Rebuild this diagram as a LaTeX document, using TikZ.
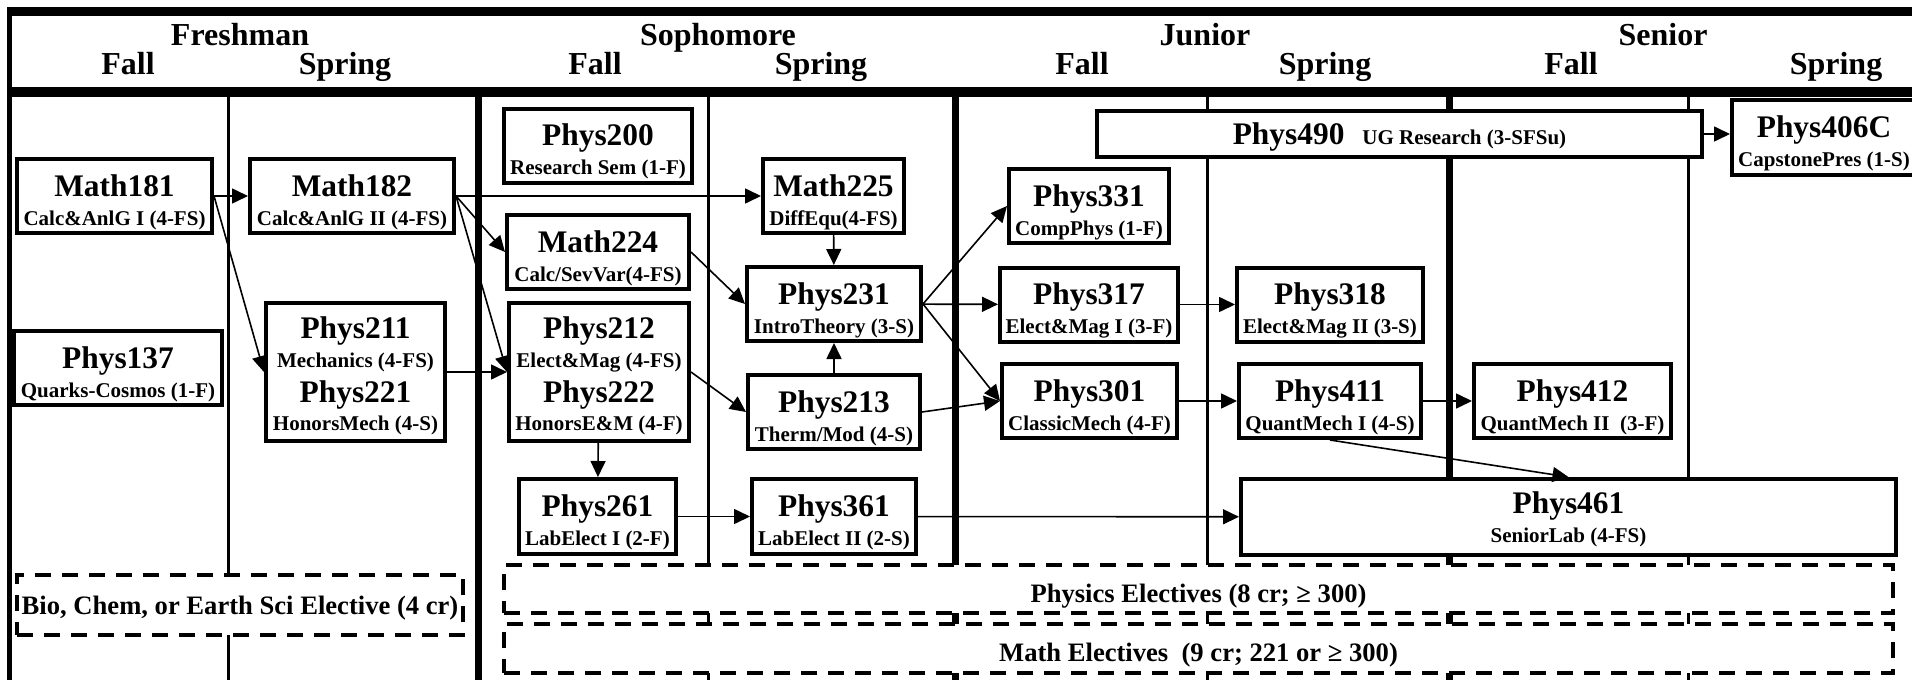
\documentclass[tikz,border=0pt]{standalone}
\usepackage{fontspec}
\setmainfont{Liberation Serif}
\usetikzlibrary{arrows.meta}
\newcommand{\cnum}{\fontsize{15.7pt}{16pt}\selectfont}
% course number over course title, one or two courses per box
\newcommand{\crs}[2]{\vbox{\offinterlineskip\halign{\hfil##\hfil\cr
    \rule[-4pt]{0pt}{21.5pt}{\cnum #1}\cr
    \rule[-3pt]{0pt}{13.5pt}#2\cr}}}
\newcommand{\crspair}[4]{\vbox{\offinterlineskip\halign{\hfil##\hfil\cr
    \rule[-4pt]{0pt}{19pt}{\cnum #1}\cr
    \rule[-4pt]{0pt}{14.5pt}#2\cr
    \rule[-4pt]{0pt}{17.5pt}{\cnum #3}\cr
    \rule[-3pt]{0pt}{13pt}#4\cr}}}

\begin{document}
\begin{tikzpicture}[x=0.5pt, y=-0.5pt,
        >={Triangle[length=8pt,width=7.5pt]},
        course/.style={draw, line width=2pt, fill=white, inner sep=1pt,
          minimum height=37pt,
          font=\bfseries\fontsize{10.5pt}{12pt}\selectfont},
        elective/.style={draw, line width=2pt, dash pattern=on 8pt off 5.5pt, fill=white,
          inner sep=0pt, text height=13pt, text depth=0pt,
          font=\bfseries\fontsize{13.3pt}{15pt}\selectfont},
        year/.style={anchor=base, font=\bfseries\fontsize{16pt}{18pt}\selectfont},
        term/.style={year},
        link/.style={->, line width=0.8pt}]

        \useasboundingbox (0,0) rectangle (1912,680);
        \clip (0,0) rectangle (1912,680);

        % Frame and columns
        \draw[line width=4.5pt] (7,11.5) -- (1912,11.5);
        \draw[line width=5pt]   (7,92) -- (1912,92);
        \draw[line width=2.5pt] (9.5,7) -- (9.5,680);
        \draw[line width=1.5pt] (228,92) -- (228,680);
        \draw[line width=3.5pt] (478,92) -- (478,680);
        \draw[line width=1.5pt] (708,92) -- (708,680);
        \draw[line width=3.5pt] (955,92) -- (955,680);
        \draw[line width=1.5pt] (1207,92) -- (1207,680);
        \draw[line width=3.5pt] (1449,92) -- (1449,680);
        \draw[line width=1.5pt] (1688,92) -- (1688,680);

        % Years and terms
        \node[year] (fresh)  at (240,45)  {Freshman};
        \node[year] (soph)   at (718,45)  {Sophomore};
        \node[year] (junior) at (1205,45) {Junior};
        \node[year] (senior) at (1663,45) {Senior};
        \node[term] (fresh_f)  at (128,74)  {Fall};
        \node[term] (fresh_s)  at (345,74)  {Spring};
        \node[term] (soph_f)   at (595,74)  {Fall};
        \node[term] (soph_s)   at (821,74)  {Spring};
        \node[term] (junior_f) at (1082,74) {Fall};
        \node[term] (junior_s) at (1325,74) {Spring};
        \node[term] (senior_f) at (1571,74) {Fall};
        \node[term] (senior_s) at (1836,74) {Spring};

        % Place courses
        \node[course, minimum width=97.5pt] (math181) at (114.5,196) {\crs{Math181}{Calc\&AnlG I (4-FS)}};
        \node[course, minimum width=104pt]  (phys137) at (118,368)   {\crs{Phys137}{Quarks-Cosmos (1-F)}};
        \node[course, minimum width=102pt]  (math182) at (352,196)   {\crs{Math182}{Calc\&AnlG II (4-FS)}};
        \node[course, minimum width=89.5pt, minimum height=69pt] (phys211) at (355.5,372)
            {\crspair{Phys211}{Mechanics (4-FS)}{Phys221}{HonorsMech (4-S)}};
        \node[course, minimum width=94pt, minimum height=36.5pt] (phys200) at (598,145.5) {\crs{Phys200}{Research Sem (1-F)}};
        \node[course, minimum width=91pt]   (math224) at (598,252)   {\crs{Math224}{Calc/SevVar(4-FS)}};
        \node[course, minimum width=90pt, minimum height=69pt] (phys212) at (599,372)
            {\crspair{Phys212}{Elect\&Mag (4-FS)}{Phys222}{HonorsE\&M (4-F)}};
        \node[course, minimum width=78.5pt, minimum height=37.5pt] (phys261) at (597.5,516.5) {\crs{Phys261}{LabElect I (2-F)}};
        \node[course, minimum width=70.5pt] (math225) at (833.5,196) {\crs{Math225}{DiffEqu(4-FS)}};
        \node[course, minimum width=87pt]   (phys231) at (834,304)   {\crs{Phys231}{IntroTheory (3-S)}};
        \node[course, minimum width=86pt]   (phys213) at (834,412)   {\crs{Phys213}{Therm/Mod (4-S)}};
        \node[course, minimum width=82pt, minimum height=37.5pt] (phys361) at (834,516.5) {\crs{Phys361}{LabElect II (2-S)}};
        \node[course, minimum width=80pt]   (phys331) at (1089,206)  {\crs{Phys331}{CompPhys (1-F)}};
        \node[course, minimum width=89pt, minimum height=36.5pt] (phys317) at (1089,304.5) {\crs{Phys317}{Elect\&Mag I (3-F)}};
        \node[course, minimum width=87.5pt] (phys301) at (1089.5,401) {\crs{Phys301}{ClassicMech (4-F)}};
        \node[course, minimum width=302.5pt, minimum height=23pt, text depth=0pt] (phys490) at (1399.5,134)
            {{\cnum Phys490}\hspace{9pt}UG Research (3-SFSu)};
        \node[course, minimum width=93pt, minimum height=36.5pt] (phys318) at (1330,304.5) {\crs{Phys318}{Elect\&Mag II (3-S)}};
        \node[course, minimum width=91pt]   (phys411) at (1330,401)  {\crs{Phys411}{QuantMech I (4-S)}};
        \node[course, minimum width=98.5pt] (phys412) at (1572.5,401) {\crs{Phys412}{QuantMech II~ (3-F)}};
        \node[course, minimum width=327.5pt, minimum height=38pt] (phys461) at (1568.5,517)
            {\raisebox{2pt}[32pt][3pt]{\crs{Phys461}{SeniorLab (4-FS)}}};
        \node[course, minimum width=92pt, minimum height=37.5pt] (phys406c) at (1824,137.5)
            {\crs{Phys406C}{CapstonePres (1-S)}};

        % Electives
        \node[elective, minimum width=223pt, minimum height=30pt, text height=9pt] (bio) at (240,605)
            {Bio, Chem, or Earth Sci Elective (4 cr)};
        \node[elective, minimum width=694.5pt, minimum height=24pt] (physelec) at (1198.5,589)
            {Physics Electives (8 cr; ≥ 300)};
        \node[elective, minimum width=694.5pt, minimum height=24.5pt] (mathelec) at (1198.5,648.5)
            {Math Electives~~(9 cr; 221 or ≥ 300)};

        % Draw prerequisites
        \path [link] (math181) edge (math182);
        \path [link] (math181.east) edge (phys211.west);
        \path [link] (math182) edge (math225);
        \path [link] (math182.east) edge (math224.west);
        \path [link] (math182.east) edge (phys212.west);
        \path [link] (phys211) edge (phys212);
        \path [link] (math224.east) edge (phys231.west);
        \path [link] (phys212.east) edge (phys213.west);
        \path [link] (math225) edge (phys231);
        \path [link] (phys213) edge (phys231);
        \path [link] (phys212) edge (phys261);
        \path [link] (phys261) edge (phys361);
        \path [link] (phys231.east) edge (phys331.west);
        \path [link] (phys231) edge (phys317);
        \path [link] (phys231.east) edge (phys301.west);
        \path [link] (phys213.east) edge (phys301.west);
        \path [link] (phys317) edge (phys318);
        \path [link] (phys301) edge (phys411);
        \path [link] (phys411) edge (phys412);
        \path [link] (phys411.south) edge (phys461.north);
        \path [link] (phys361) edge (phys461);
        \path [link] (phys490.east) edge (phys490.east -| phys406c.west);
\end{tikzpicture}
\end{document}
